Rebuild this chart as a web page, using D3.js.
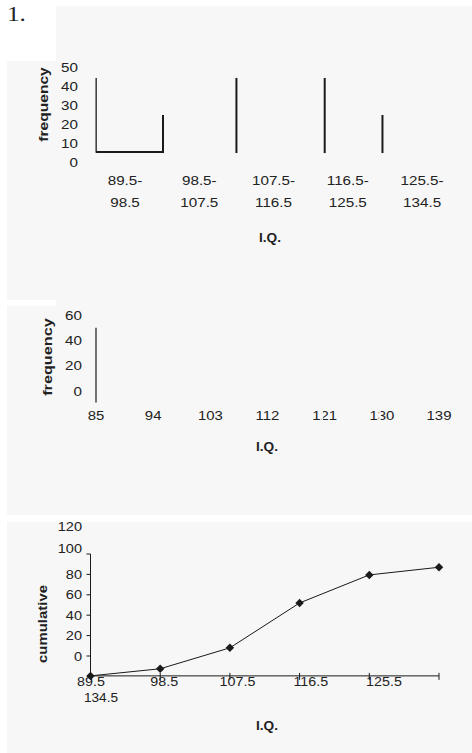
<!DOCTYPE html>
<html><head><meta charset="utf-8">
<script src="https://cdn.jsdelivr.net/npm/d3@7"></script>
<style>html,body{margin:0;padding:0;background:#fff;}svg{display:block;}</style>
</head><body>
<script>
// ---------- data ----------
const categories1 = ["89.5-98.5", "98.5-107.5", "107.5-116.5", "116.5-125.5", "125.5-134.5"];
const classMids1 = [94, 103, 112, 121, 130];
const freqTicks1 = [0, 10, 20, 30, 40, 50];
const hist1EdgeIQ = [90.5, 98.6, 107.5, 118.2, 125.2];
const hist1EdgeTop = [44.5, 25, 44.5, 44.5, 25];
const hist1Base = 5.5;

const iqTicks2 = [85, 94, 103, 112, 121, 130, 139];
const freqTicks2 = [0, 20, 40, 60];
const hist2EdgeIQ = [85];
const hist2EdgeTop = [50];
const hist2EdgeBottom = [-9];
const hist2GhostIQ = [120.6, 129.7]; // background-coloured edges crossing the labels

const iqPoints3 = [89.5, 98.5, 107.5, 116.5, 125.5, 134.5];
const cumulative3 = [-19.5, -12.5, 8, 52, 79.5, 87];
const cumTicks3 = [0, 20, 40, 60, 80, 100, 120];
const cumAxisTicks3 = [0, 20, 40, 60, 80, 100];
const xLabels3 = ["89.5", "98.5", "107.5", "116.5", "125.5"];
const xLabel3Wrap = "134.5";

// ---------- setup ----------
const W = 472, H = 753;
const BG = "#f7f7f7", INK = "#1a1a1a", TXT = "#222";
const FONT = "'Liberation Sans', Arial, Helvetica, sans-serif";
const svg = d3.select("body").append("svg").attr("width", W).attr("height", H);
svg.append("rect").attr("width", W).attr("height", H).attr("fill", "#fff");

// panels
[[56, 6, 416, 509], [7, 61, 49, 239], [7, 306, 49, 209], [7, 522, 465, 231]].forEach(r =>
  svg.append("rect").attr("x", r[0]).attr("y", r[1]).attr("width", r[2]).attr("height", r[3]).attr("fill", BG));

function txt(s, x, y, o = {}) {
  const sx = o.sx || 1.17;
  let tr = `translate(${x},${y})`;
  if (o.rotate) tr += ` rotate(${o.rotate})`;
  tr += ` scale(${sx},1)`;
  return svg.append("text").attr("transform", tr)
    .attr("text-anchor", o.anchor || "middle")
    .attr("dy", o.dy != null ? o.dy : "0.36em")
    .attr("font-family", o.family || FONT)
    .attr("font-size", o.size || 13)
    .attr("font-weight", o.weight || "normal")
    .attr("fill", o.fill || TXT)
    .text(s);
}

// title
txt("1.", 7, 21, {anchor: "start", dy: 0, family: "'Liberation Serif','Times New Roman',serif", size: 21, sx: 1.2});

// ---------- chart 1 ----------
const x1 = d3.scaleLinear().domain([89.5, 134.5]).range([87.9, 459.2]);
const y1 = d3.scaleLinear().domain([0, 50]).range([162.5, 67.5]);
freqTicks1.forEach(t => txt(String(t), 78, y1(t), {anchor: "end"}));
categories1.forEach((c, i) => {
  const parts = c.split("-");
  txt(parts[0] + "-", x1(classMids1[i]), 180);
  txt(parts[1], x1(classMids1[i]), 202);
});
txt("frequency", 43, 104.5, {rotate: -90, weight: "bold", sx: 1.2});
txt("I.Q.", 270, 237, {weight: "bold", sx: 1.05});

// outline of first class (left edge, base, right edge)
const outline = d3.line().x(d => x1(d[0])).y(d => y1(d[1]));
svg.append("path")
  .attr("d", outline([[hist1EdgeIQ[0], hist1EdgeTop[0]], [hist1EdgeIQ[0], hist1Base], [hist1EdgeIQ[1], hist1Base]]))
  .attr("fill", "none").attr("stroke", INK).attr("stroke-width", 1.3);
hist1EdgeIQ.forEach((q, i) => {
  if (i === 0) return;
  svg.append("line").attr("x1", x1(q)).attr("x2", x1(q))
    .attr("y1", y1(hist1EdgeTop[i])).attr("y2", y1(hist1Base) + 1)
    .attr("stroke", INK).attr("stroke-width", 2);
});
svg.append("line").attr("x1", x1(hist1EdgeIQ[0])).attr("x2", x1(hist1EdgeIQ[1]))
  .attr("y1", y1(hist1Base)).attr("y2", y1(hist1Base)).attr("stroke", INK).attr("stroke-width", 2);

// ---------- chart 2 ----------
const x2 = d3.scaleLinear().domain([85, 139]).range([96, 439]);
const y2 = d3.scaleLinear().domain([0, 60]).range([391, 315]);
freqTicks2.forEach(t => txt(String(t), 82, y2(t), {anchor: "end"}));
iqTicks2.forEach(t => txt(String(t), x2(t), 415, {sx: 1.15}));
hist2EdgeIQ.forEach((q, i) => svg.append("line")
  .attr("x1", x2(q)).attr("x2", x2(q)).attr("y1", y2(hist2EdgeTop[i])).attr("y2", y2(hist2EdgeBottom[i]))
  .attr("stroke", INK).attr("stroke-width", 1.2));
hist2GhostIQ.forEach(q => svg.append("line")
  .attr("x1", x2(q)).attr("x2", x2(q)).attr("y1", 405).attr("y2", 422)
  .attr("stroke", BG).attr("stroke-width", 1.6));
txt("frequency", 47, 357, {rotate: -90, weight: "bold", sx: 1.25});
txt("I.Q.", 267, 446, {weight: "bold", sx: 1.05});

// ---------- chart 3 ----------
const x3 = d3.scaleLinear().domain([89.5, 134.5]).range([90.5, 439]);
const y3 = d3.scaleLinear().domain([0, 100]).range([656, 554]);
const axisY = y3(cumulative3[0]);
cumTicks3.forEach(t => txt(String(t), 82, t === 120 ? y3(t) - 7 : (t === 100 ? y3(t) - 6 : y3(t)), {anchor: "end", sx: 1.12}));
svg.append("line").attr("x1", x3(89.5)).attr("x2", x3(89.5)).attr("y1", y3(100)).attr("y2", axisY)
  .attr("stroke", INK).attr("stroke-width", 1);
cumAxisTicks3.forEach(t => svg.append("line").attr("x1", x3(89.5) - 4).attr("x2", x3(89.5))
  .attr("y1", y3(t)).attr("y2", y3(t)).attr("stroke", INK).attr("stroke-width", 1));

const lx = d3.scalePoint().domain(xLabels3).range([91, 384]);
xLabels3.forEach(l => txt(l, lx(l), 681, {sx: 1.1}));
txt(xLabel3Wrap, 101, 697, {sx: 1.05});

svg.append("line").attr("x1", 87).attr("x2", x3(134.5)).attr("y1", axisY).attr("y2", axisY)
  .attr("stroke", INK).attr("stroke-width", 1);
iqPoints3.forEach(q => svg.append("line").attr("x1", x3(q)).attr("x2", x3(q))
  .attr("y1", axisY - 3).attr("y2", axisY + 4).attr("stroke", INK).attr("stroke-width", 1));

const pts = iqPoints3.map((q, i) => [q, cumulative3[i]]);
svg.append("path").attr("d", d3.line().x(d => x3(d[0])).y(d => y3(d[1]))(pts))
  .attr("fill", "none").attr("stroke", INK).attr("stroke-width", 1);
const sym = d3.symbol().type(d3.symbolSquare).size(36);
pts.forEach(p => svg.append("path").attr("d", sym())
  .attr("transform", `translate(${x3(p[0])},${y3(p[1])}) rotate(45)`).attr("fill", INK));

txt("cumulative", 42, 624, {rotate: -90, weight: "bold", sx: 1.15});
txt("I.Q.", 267, 725, {weight: "bold", sx: 1.05});
</script>
</body></html>
